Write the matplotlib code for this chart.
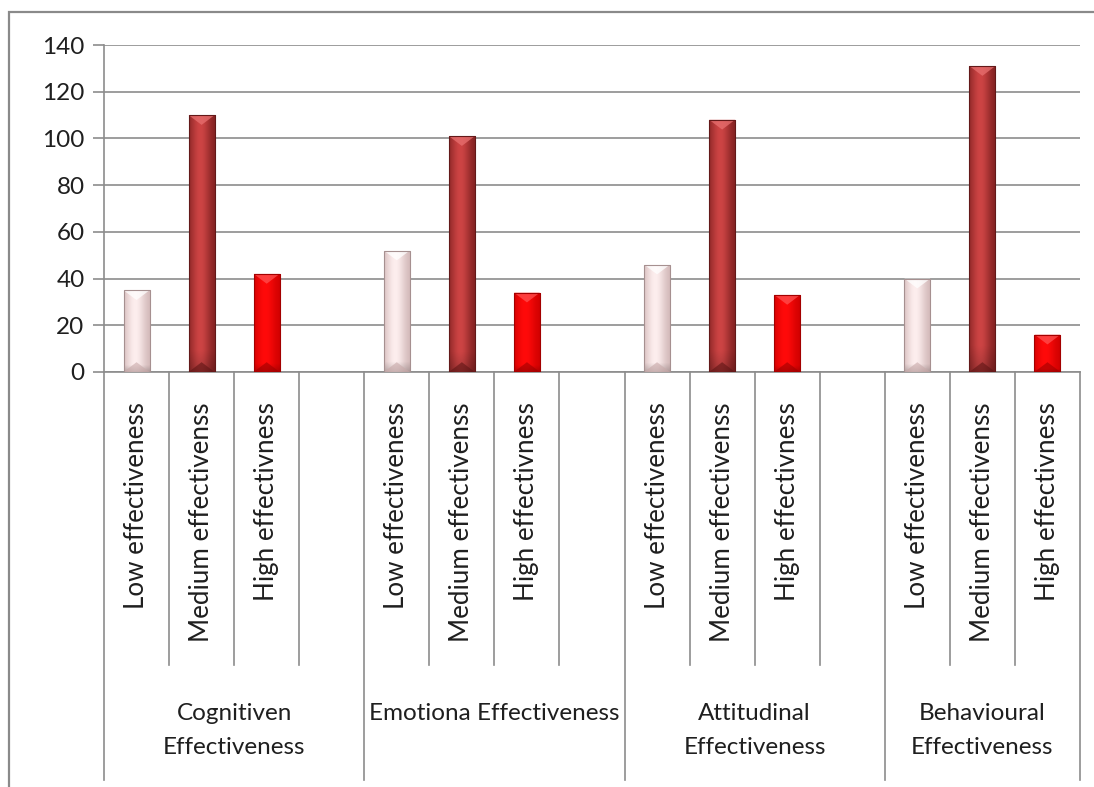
import numpy as np
import matplotlib
matplotlib.use("Agg")
import matplotlib.pyplot as plt
from matplotlib.colors import to_rgb
from matplotlib.patches import Polygon, Rectangle
from matplotlib.transforms import blended_transform_factory

# data
groups = ["Cognitiven\nEffectiveness", "Emotiona Effectiveness",
          "Attitudinal\nEffectiveness", "Behavioural\nEffectiveness"]
levels = ["Low effectiveness", "Medium effectivenss", "High effectivness"]
low = [35, 52, 46, 40]
medium = [110, 101, 108, 131]
high = [42, 34, 33, 16]
group_slots = [4, 4, 4, 3]   # last group has no blank slot

# (edge colour, centre colour, top bevel, bottom bevel)
styles = [
    ("#cfb4b4", "#fdeeee", "#ffffff", "#c9a9a9"),
    ("#7c1f1f", "#cd4444", "#e87070", "#5e1515"),
    ("#cc0000", "#ff0a0a", "#ff5050", "#a00000"),
]
text_col = "#1f1f1f"
grid_col = "#8c8c8c"
plt.rcParams["font.family"] = ["Lato", "DejaVu Sans"]

W, H = 1094, 787
fig = plt.figure(figsize=(W / 100, H / 100), dpi=100)
px_l, px_r, px_t, px_b = 104, 1080, 45, 372
ax = fig.add_axes([px_l / W, 1 - px_b / H, (px_r - px_l) / W, (px_b - px_t) / H])

n_slots = sum(group_slots)
starts = np.cumsum([0] + group_slots[:-1])
series = [low, medium, high]


def shade(bar, style):
    edge, centre, top, bottom = [np.array(to_rgb(c)) for c in style]
    x0, w, h = bar.get_x(), bar.get_width(), bar.get_height()
    t = np.linspace(0, 1, 60)
    prof = np.exp(-((t - 0.42) / 0.38) ** 2)
    row = edge + (centre - edge) * prof[:, None]
    v = np.linspace(0, 1, 120)[:, None, None]   # 0 = bottom
    img = row[None, :, :] * (0.82 + 0.18 * np.clip(v * 12, 0, 1))
    im = ax.imshow(img[::-1], extent=[x0, x0 + w, 0, h], aspect="auto",
                   origin="upper", zorder=3, interpolation="bilinear")
    im.set_clip_path(bar)
    d = 4.2
    ax.add_patch(Polygon([[x0, h], [x0 + w, h], [x0 + w / 2, h - d]],
                         closed=True, color=top, alpha=0.75, zorder=4, lw=0))
    ax.add_patch(Polygon([[x0, 0], [x0 + w, 0], [x0 + w / 2, d]],
                         closed=True, color=bottom, alpha=0.6, zorder=4, lw=0))
    ax.add_patch(Rectangle((x0, 0), w, h, fill=False, ec=edge * 0.8,
                           lw=0.8, zorder=5))


for k, vals in enumerate(series):
    xs = starts + k + 0.5
    bars = ax.bar(xs, vals, width=0.4, color=styles[k][1], zorder=2, lw=0)
    for b in bars:
        shade(b, styles[k])

ax.set_xlim(0, n_slots)
ax.set_ylim(0, 140)
ax.set_yticks(np.arange(0, 141, 20))
ax.tick_params(axis="y", length=8, color=grid_col, width=1.2, labelsize=17.5,
               labelcolor=text_col, pad=6)
ax.set_xticks([])
ax.yaxis.grid(True, color=grid_col, lw=1.2, zorder=0)
for s in ["top", "right"]:
    ax.spines[s].set_visible(False)
for s in ["left", "bottom"]:
    ax.spines[s].set_color(grid_col)
    ax.spines[s].set_linewidth(1.2)

# multi-level category axis below the plot
tr = blended_transform_factory(ax.transData, fig.transFigure)
yb = 1 - px_b / H
y_inner = 1 - 665 / H
y_outer = 1 - 780 / H
bounds = list(starts) + [n_slots]
for x in bounds:
    ax.plot([x, x], [yb, y_outer], transform=tr, color=grid_col, lw=1.2,
            clip_on=False)
for g, s in enumerate(starts):
    for j in range(1, group_slots[g]):
        ax.plot([s + j, s + j], [yb, y_inner], transform=tr, color=grid_col,
                lw=1.2, clip_on=False)
    for k, lab in enumerate(levels):
        ax.text(s + k + 0.5, 1 - 402 / H, lab, rotation=90, ha="center",
                va="top", transform=tr, fontsize=18.7, color=text_col)
    ax.text(s + group_slots[g] / 2, 1 - 703 / H, groups[g], ha="center",
            va="top", transform=tr, fontsize=17.5, color=text_col,
            linespacing=1.75)

# outer chart frame (runs off the image on right and bottom)
fig.add_artist(Rectangle((9 / W, -0.05), 1.2, 1 - 12 / H + 0.05,
                         transform=fig.transFigure, fill=False,
                         ec="#8a8a8a", lw=1.6))

fig.savefig("out.png", dpi=100)
